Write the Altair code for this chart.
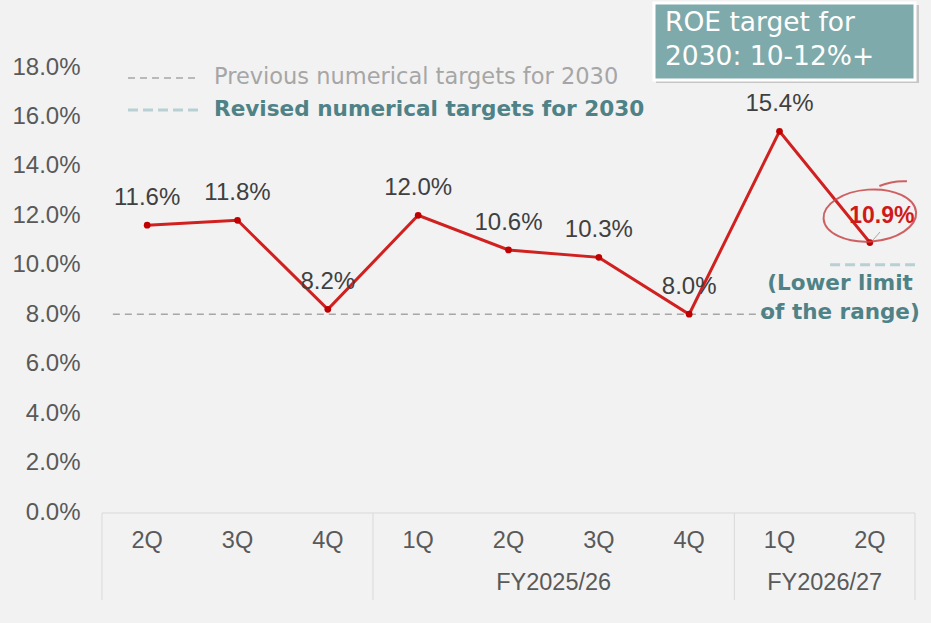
import altair as alt
import pandas as pd

# Quarterly ROE series
quarters = ["2Q", "3Q", "4Q", "1Q", "2Q", "3Q", "4Q", "1Q", "2Q"]
roe = [11.6, 11.8, 8.2, 12.0, 10.6, 10.3, 8.0, 15.4, 10.9]

# Fiscal-year groups along the category axis (first/last quarter index)
fy_names = ["", "FY2025/26", "FY2026/27"]
fy_start = [0, 3, 7]
fy_end = [2, 6, 8]

# Reference levels
prev_target = 8.0
revised_floor = 10.0

y_ticks = [0, 2, 4, 6, 8, 10, 12, 14, 16, 18]

W, H = 813, 445
FONT = "Liberation Sans"
FONT2 = "DejaVu Sans"

df = pd.DataFrame({"i": list(range(len(roe))), "q": quarters, "roe": roe})
df["label"] = [f"{v:.1f}%" for v in roe]
last = df.tail(1)
rest = df.head(len(df) - 1)

fy = pd.DataFrame({"name": fy_names, "s": fy_start, "e": fy_end})
fy["mid"] = (fy["s"] + fy["e"]) / 2
seps = pd.DataFrame({"x": [fy_start[0] - 0.5] + [e + 0.5 for e in fy_end]})

xs = alt.Scale(domain=[-0.5, len(roe) - 0.5], nice=False, zero=False)
ys = alt.Scale(domain=[0, 18], nice=False)

y_axis = alt.Axis(values=y_ticks, labelExpr="format(datum.value, '.1f') + '%'",
                  title=None, domain=False, ticks=False, grid=False,
                  labelFont=FONT, labelFontSize=24, labelColor="#595959",
                  labelPadding=22)
X = alt.X("i:Q", scale=xs, axis=None)
Y = alt.Y("roe:Q", scale=ys, axis=y_axis)

line = alt.Chart(df).mark_line(color="#d0201f", strokeWidth=3).encode(x=X, y=Y)
pts = alt.Chart(df).mark_point(filled=True, color="#c00000", size=45, opacity=1).encode(x=X, y=Y)

labels = alt.Chart(rest).mark_text(font=FONT, fontSize=24, color="#404040", dy=-27).encode(
    x=X, y=Y, text="label:N")
last_label = alt.Chart(last).mark_text(font=FONT, fontSize=23, fontWeight="bold",
                                       color="#d0191b", dx=12, dy=-27).encode(
    x=X, y=Y, text="label:N")

# hand-drawn style ring around the latest value
ring_path = ("M -1 0 A 1 0.56 0 1 0 1 0 A 1 0.56 0 1 0 -1 0 "
             "M 0.25 -0.62 Q 0.55 -0.72 0.85 -0.68")
ring = alt.Chart(last).mark_point(shape=ring_path, filled=False, size=8600,
                                  color="#c8474a", strokeWidth=2, opacity=0.85,
                                  angle=356, yOffset=-27).encode(x=X, y=Y)
leader = alt.Chart(last).mark_rule(color="#a6a6a6", strokeWidth=1).encode(
    x=alt.value(771), x2=alt.value(778), y=alt.value(173), y2=alt.value(165))

prev_df = pd.DataFrame({"x": [-0.38], "x2": [6.9], "roe": [prev_target]})
prev_line = alt.Chart(prev_df).mark_rule(color="#a6a6a6", strokeWidth=1.5,
                                         strokeDash=[7, 5]).encode(
    x=alt.X("x:Q", scale=xs, axis=None), x2="x2:Q", y=Y)
rev_df = pd.DataFrame({"x": [7.56], "x2": [8.5], "roe": [revised_floor]})
rev_line = alt.Chart(rev_df).mark_rule(color="#b7d0d4", strokeWidth=3,
                                       strokeDash=[10, 5]).encode(
    x=alt.X("x:Q", scale=xs, axis=None), x2="x2:Q", y=Y)

notes = pd.DataFrame({"t": ["(Lower limit", "of the range)"], "py": [217, 246]})
lower_note = alt.Chart(notes).mark_text(
    font=FONT2, fontSize=21.5, fontWeight="bold", color="#4f8286", align="center",
    baseline="middle").encode(
    x=alt.value(738), y=alt.Y("py:Q", scale=None), text="t:N")

# category axis drawn as a table
frame_top = alt.Chart(pd.DataFrame({"x": [-0.5], "x2": [8.5]})).mark_rule(
    color="#d9d9d9", strokeWidth=1).encode(x=alt.X("x:Q", scale=xs, axis=None), x2="x2:Q",
                                           y=alt.value(H + 1))
frame_v = alt.Chart(seps).mark_rule(color="#d9d9d9", strokeWidth=1).encode(
    x=alt.X("x:Q", scale=xs, axis=None), y=alt.value(H + 1), y2=alt.value(H + 88))
q_text = alt.Chart(df).mark_text(font=FONT, fontSize=23.5, color="#595959").encode(
    x=X, y=alt.value(474), text="q:N")
fy_text = alt.Chart(fy).mark_text(font=FONT, fontSize=23.5, color="#595959").encode(
    x=alt.X("mid:Q", scale=xs, axis=None), y=alt.value(516), text="name:N")

# legend
leg = pd.DataFrame({
    "t": ["Previous numerical targets for 2030", "Revised numerical targets for 2030"],
})
leg_prev = alt.Chart(leg.head(1)).mark_text(font=FONT2, fontSize=22.5, color="#a6a6a6",
                                            align="left", baseline="middle").encode(
    x=alt.value(112), y=alt.value(10), text="t:N")
leg_rev = alt.Chart(leg.tail(1)).mark_text(font=FONT2, fontSize=21.6, fontWeight="bold",
                                           color="#4f8286", align="left",
                                           baseline="middle").encode(
    x=alt.value(112), y=alt.value(43), text="t:N")
leg_prev_dash = alt.Chart(leg.head(1)).mark_rule(color="#a6a6a6", strokeWidth=1.5,
                                                 strokeDash=[7, 5]).encode(
    x=alt.value(26), x2=alt.value(98), y=alt.value(11))
leg_rev_dash = alt.Chart(leg.head(1)).mark_rule(color="#b7d0d4", strokeWidth=3,
                                                strokeDash=[10, 5]).encode(
    x=alt.value(26), x2=alt.value(101), y=alt.value(43))

# target callout box
box_shadow = alt.Chart(leg.head(1)).mark_rect(color="#000000", opacity=0.18).encode(
    x=alt.value(554), x2=alt.value(817), y=alt.value(-62), y2=alt.value(16))
box = alt.Chart(leg.head(1)).mark_rect(color="#7faaab", stroke="white", strokeWidth=3).encode(
    x=alt.value(552), x2=alt.value(813), y=alt.value(-64), y2=alt.value(13))
box_lines = pd.DataFrame({"t": ["ROE target for", "2030: 10-12%+"], "py": [-44, -10]})
box_text = alt.Chart(box_lines).mark_text(
    font=FONT2, fontSize=26.5, color="white", align="left", baseline="middle").encode(
    x=alt.value(563), y=alt.Y("py:Q", scale=None), text="t:N")

chart = alt.layer(
    frame_top, frame_v, q_text, fy_text,
    prev_line, rev_line, line, pts, labels, leader, ring, last_label, lower_note,
    leg_prev_dash, leg_rev_dash, leg_prev, leg_rev,
    box_shadow, box, box_text,
).properties(
    width=W, height=H,
    autosize=alt.AutoSizeParams(type="none"),
    padding={"left": 102, "top": 67, "right": 16, "bottom": 111},
    background="#f2f2f2",
).configure_view(stroke=None)

chart.save("out.html", embed_options={"renderer": "svg", "actions": False})
